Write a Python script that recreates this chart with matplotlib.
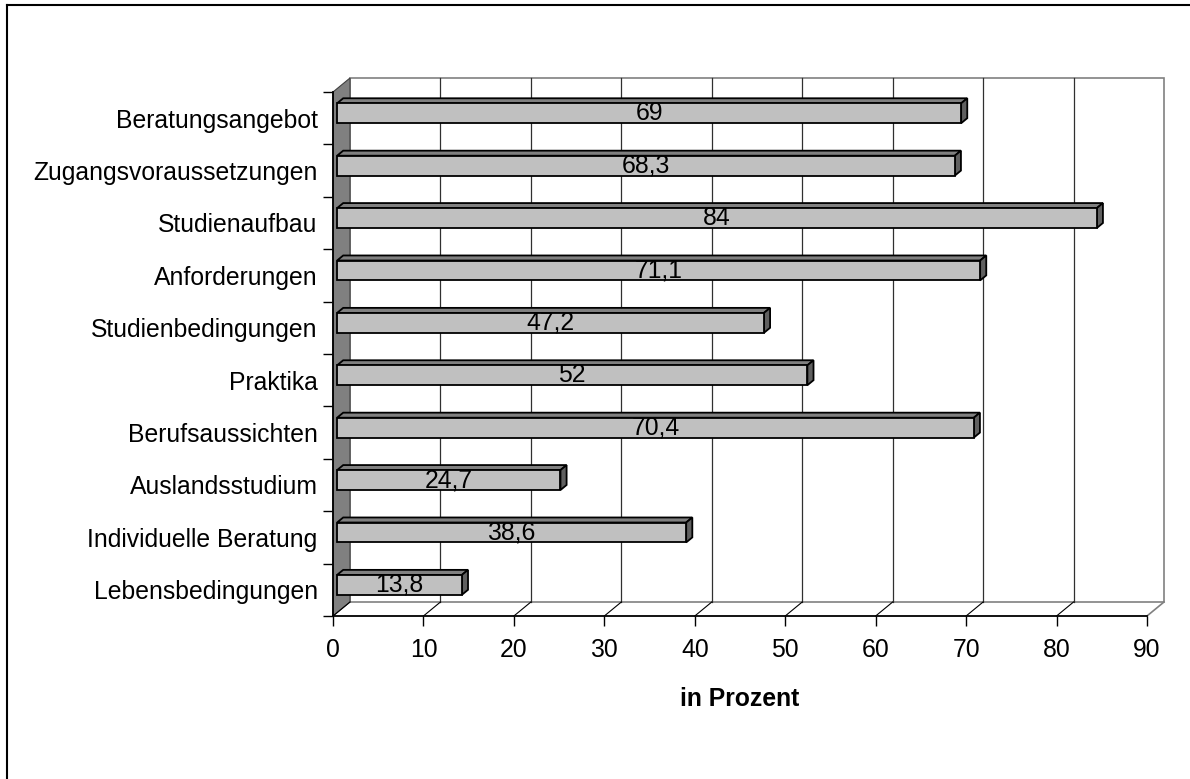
import numpy as np
import matplotlib.pyplot as plt
from matplotlib.patches import Polygon

plt.rcParams['font.family'] = ['Liberation Sans', 'DejaVu Sans']

# Daten (von oben nach unten wie im Bild)
kategorien = ['Beratungsangebot', 'Zugangsvoraussetzungen', 'Studienaufbau',
              'Anforderungen', 'Studienbedingungen', 'Praktika',
              'Berufsaussichten', 'Auslandsstudium', 'Individuelle Beratung',
              'Lebensbedingungen']
werte = [69, 68.3, 84, 71.1, 47.2, 52, 70.4, 24.7, 38.6, 13.8]
x_ticks = [0, 10, 20, 30, 40, 50, 60, 70, 80, 90]

W, H = 1190, 779
fig = plt.figure(figsize=(W / 100, H / 100), dpi=100)
# Vorderebene der Achsen (Pixel -> Bruchteile)
L, R, T, B = 333, 1147, 92, 616
ax = fig.add_axes([L / W, 1 - B / H, (R - L) / W, (B - T) / H])

n = len(kategorien)
xmax = 90
ax.set_xlim(0, xmax)
ax.set_ylim(0, n)

# Tiefe der 3D-Darstellung in Dateneinheiten
px_x = (R - L) / xmax
px_y = (B - T) / n
ddx = 17 / px_x
ddy = 14 / px_y

def off(p, f):
    return (p[0] + f * ddx, p[1] + f * ddy)

kw = dict(clip_on=False)

# Rückwand
ax.add_patch(Polygon([off((0, 0), 1), off((xmax, 0), 1), off((xmax, n), 1), off((0, n), 1)],
                     closed=True, facecolor='white', edgecolor='#808080', lw=1.2, zorder=1, **kw))
# Gitterlinien auf der Rückwand
for t in x_ticks[1:-1]:
    p0, p1 = off((t, 0), 1), off((t, n), 1)
    ax.plot([p0[0], p1[0]], [p0[1], p1[1]], color='#303030', lw=0.9, zorder=1.5, **kw)
# linke Seitenwand
ax.add_patch(Polygon([(0, 0), (0, n), off((0, n), 1), off((0, 0), 1)],
                     closed=True, facecolor='#808080', edgecolor='#404040', lw=0.8, zorder=2, **kw))
# Boden
p0 = off((xmax, 0), 1)
ax.plot([xmax, p0[0]], [0, p0[1]], color='#808080', lw=1.2, zorder=2, **kw)
for t in x_ticks[:-1]:
    p0 = off((t, 0), 1)
    ax.plot([t, p0[0]], [0, p0[1]], color='black', lw=0.8, zorder=2, **kw)

# Balken
a, b = 0.24, 0.6
h = 0.19
for i, (name, v) in enumerate(zip(kategorien, werte)):
    c = n - i - 0.5 + 0.03
    front = [off((0, c - h), a), off((v, c - h), a), off((v, c + h), a), off((0, c + h), a)]
    top = [off((0, c + h), a), off((v, c + h), a), off((v, c + h), b), off((0, c + h), b)]
    side = [off((v, c - h), a), off((v, c + h), a), off((v, c + h), b), off((v, c - h), b)]
    ax.add_patch(Polygon(top, closed=True, facecolor='#808080', edgecolor='black', lw=1.3, zorder=3, **kw))
    ax.add_patch(Polygon(side, closed=True, facecolor='#606060', edgecolor='black', lw=1.3, zorder=3, **kw))
    ax.add_patch(Polygon(front, closed=True, facecolor='#C0C0C0', edgecolor='black', lw=1.3, zorder=4, **kw))
    tx, ty = off((v / 2, c), a)
    txt = ('%g' % v).replace('.', ',')
    ax.text(tx, ty, txt, ha='center', va='center', fontsize=17.8, zorder=5)

# Achsen
for s in ['top', 'right']:
    ax.spines[s].set_visible(False)
ax.spines['left'].set_zorder(6)
ax.spines['bottom'].set_zorder(6)
ax.spines['left'].set_linewidth(1.3)
ax.spines['bottom'].set_linewidth(1.3)
ax.patch.set_visible(False)

ax.set_xticks(x_ticks)
ax.set_xticklabels([str(t) for t in x_ticks], fontsize=17.8)
ax.set_yticks(np.arange(0, n + 1))
ax.set_yticklabels([])
ax.set_yticks(np.arange(n) + 0.5, minor=True)
ax.set_yticklabels(kategorien[::-1], minor=True, fontsize=17.8)
ax.tick_params(axis='y', which='minor', length=0, pad=11)
ax.tick_params(axis='y', which='major', length=7, width=1)
ax.tick_params(axis='x', length=7, width=1, pad=9)
ax.set_xlabel('in Prozent', fontsize=17.8, fontweight='bold', labelpad=18)

# Rahmen
fig.add_artist(plt.Line2D([7 / W, 7 / W], [0, 1 - 5 / H], color='black', lw=1.5))
fig.add_artist(plt.Line2D([7 / W, 1], [1 - 5 / H, 1 - 5 / H], color='black', lw=1.5))

fig.savefig('out.png', dpi=100)
